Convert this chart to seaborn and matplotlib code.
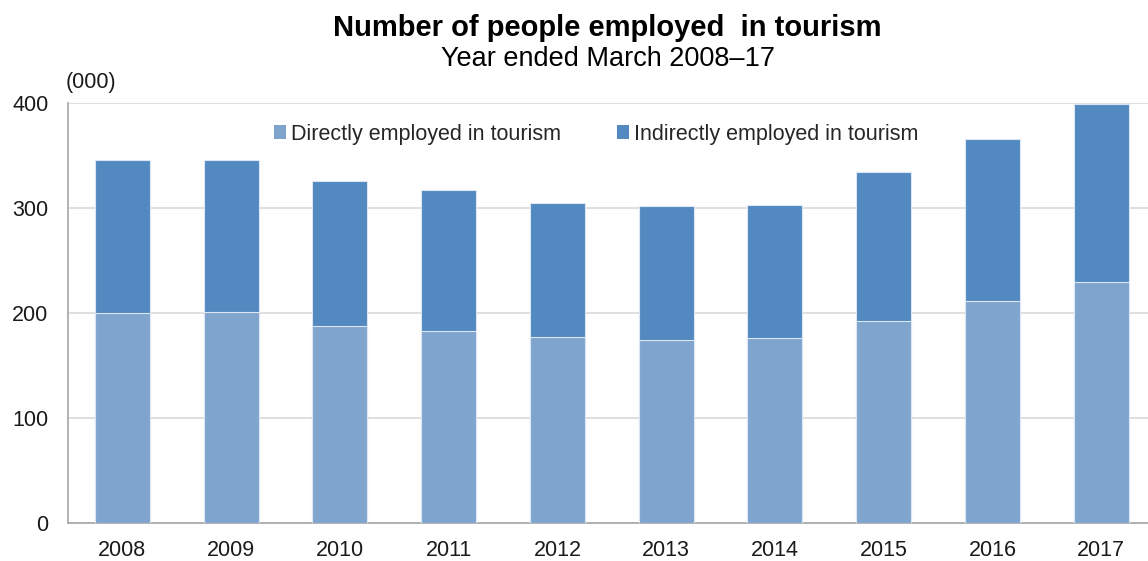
import matplotlib
matplotlib.use("Agg")
import matplotlib.pyplot as plt
from matplotlib.patches import Patch
import pandas as pd
import seaborn as sns

years = ["2008", "2009", "2010", "2011", "2012", "2013", "2014", "2015", "2016", "2017"]
direct = [200, 201, 188, 183, 177, 174, 176, 192, 211, 230]
indirect = [146, 145, 138, 134, 128, 128, 127, 142, 155, 169]
series_names = ["Directly employed in tourism", "Indirectly employed in tourism"]
y_ticks = [0, 100, 200, 300, 400]

c_direct = "#7FA5CF"
c_indirect = "#5289C0"
edge = "#DCE6F2"

df = pd.DataFrame({"year": years, "direct": direct, "indirect": indirect})
df["total"] = df["direct"] + df["indirect"]

sns.set_theme(style="white")
plt.rcParams["font.family"] = ["Liberation Sans", "DejaVu Sans"]

fig = plt.figure(figsize=(11.48, 5.61), dpi=100)
ax = fig.add_axes([68 / 1148, 1 - 523 / 561, 1 - 68 / 1148, (523 - 103) / 561])

# stacked bars: full height in the darker colour, direct share drawn over it
sns.barplot(data=df, x="year", y="total", color=c_indirect, width=0.505,
            edgecolor=edge, linewidth=0.8, saturation=1, ax=ax, zorder=3)
sns.barplot(data=df, x="year", y="direct", color=c_direct, width=0.505,
            edgecolor=edge, linewidth=0.8, saturation=1, ax=ax, zorder=4)

ax.set_ylim(0, 400)
ax.set_xlim(-0.5, 9.43)
ax.set_yticks(y_ticks)
ax.yaxis.grid(True, color="#D9D9D9", linewidth=1.2, zorder=0)
ax.set_axisbelow(True)
ax.set_xlabel("")
ax.set_ylabel("")
for s in ["top", "right"]:
    ax.spines[s].set_visible(False)
for s in ["left", "bottom"]:
    ax.spines[s].set_color("#A6A6A6")
    ax.spines[s].set_linewidth(1.2)
ax.tick_params(axis="both", length=0, colors="#1a1a1a")
ax.tick_params(axis="y", pad=14, labelsize=15.5)
ax.tick_params(axis="x", pad=12, labelsize=15.5)

handles = [Patch(facecolor=c_direct, edgecolor="none"),
           Patch(facecolor=c_indirect, edgecolor="none")]
ax.legend(handles, series_names, loc="center", bbox_to_anchor=(0.489, 0.926),
          ncol=2, frameon=False, fontsize=15.5, handlelength=0.56, handleheight=0.6,
          handletextpad=0.25, columnspacing=2.6)

fig.text(0.529, 1 - 36 / 561, "Number of people employed  in tourism", ha="center",
         va="baseline", fontsize=21, fontweight="bold", color="#000000")
fig.text(0.530, 1 - 66.5 / 561, "Year ended March 2008\u201317", ha="center",
         va="baseline", fontsize=19.5, color="#000000")
fig.text(66 / 1148, 1 - 82 / 561, "(000)", ha="left", va="center",
         fontsize=15.5, color="#1a1a1a")

fig.savefig("out.png", dpi=100)
